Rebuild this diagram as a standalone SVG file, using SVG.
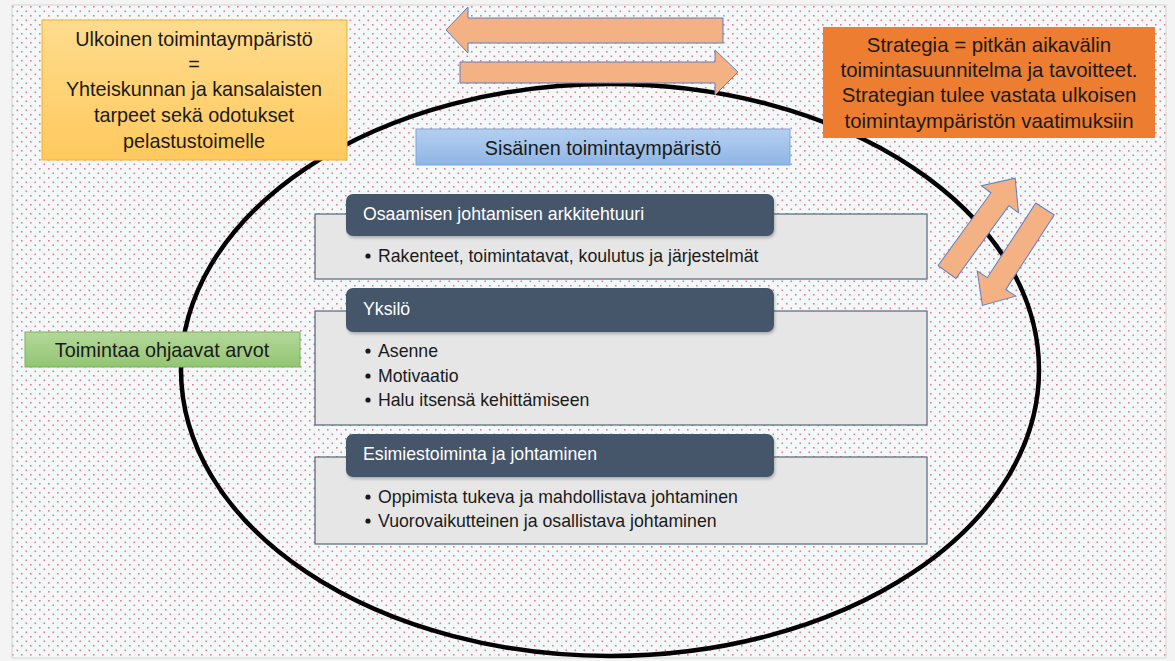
<svg xmlns="http://www.w3.org/2000/svg" width="1175" height="661" viewBox="0 0 1175 661">
<defs>
<pattern id="dots" x="12" y="6" width="9" height="9" patternUnits="userSpaceOnUse">
<rect width="9" height="9" fill="#f3f9f9"/>
<rect x="0" y="0" width="1.6" height="1.6" fill="#e0506a" opacity="0.75"/>
<rect x="4.5" y="4.5" width="1.6" height="1.6" fill="#e0506a" opacity="0.75"/>
</pattern>
<linearGradient id="gYellow" x1="0" y1="0" x2="0" y2="1">
<stop offset="0" stop-color="#ffdc8e"/>
<stop offset="1" stop-color="#ffc95e"/>
</linearGradient>
<linearGradient id="gBlue" x1="0" y1="0" x2="0" y2="1">
<stop offset="0" stop-color="#b4d0f0"/>
<stop offset="1" stop-color="#8fb5e5"/>
</linearGradient>
<linearGradient id="gGreen" x1="0" y1="0" x2="0" y2="1">
<stop offset="0" stop-color="#b3d89a"/>
<stop offset="1" stop-color="#92c572"/>
</linearGradient>
<filter id="sh" x="-5%" y="-20%" width="110%" height="150%">
<feDropShadow dx="1" dy="2" stdDeviation="1.5" flood-color="#000" flood-opacity="0.25"/>
</filter>
</defs>
<style>
text{font-family:"Liberation Sans",Arial,sans-serif;fill:#1a1a1a}
.big{font-size:19.8px}
.str{font-size:20.4px}
.tab{fill:#44546a}
.tabt{font-size:17.7px;fill:#ffffff}
.panel{fill:#e6e6e6;stroke:#56667a;stroke-width:1.2}
.bt{font-size:17.7px}
.arrow{fill:#f4b183;stroke:#5b7fc9;stroke-width:1}
</style>
<rect x="0" y="0" width="1175" height="661" fill="#f4f4f4"/>
<rect x="12" y="5" width="1154" height="653" fill="url(#dots)" stroke="#d4d4d4" stroke-width="1"/>

<g id="ellipse">
<ellipse cx="610" cy="370" rx="429" ry="286" fill="none" stroke="#000" stroke-width="4.5"/>
</g>

<g id="ulkoinen">
<rect x="42" y="20" width="305" height="140" fill="url(#gYellow)" stroke="#f2b134" stroke-width="1"/>
<text class="big" text-anchor="middle" x="194" y="46">Ulkoinen toimintaympäristö</text>
<text class="big" text-anchor="middle" x="194" y="71">=</text>
<text class="big" text-anchor="middle" x="194" y="96">Yhteiskunnan ja kansalaisten</text>
<text class="big" text-anchor="middle" x="194" y="122">tarpeet sekä odotukset</text>
<text class="big" text-anchor="middle" x="194" y="148">pelastustoimelle</text>
</g>

<g id="strategia">
<rect x="823" y="27" width="332" height="111" fill="#ed7d31"/>
<text class="str" text-anchor="middle" x="989" y="52">Strategia = pitkän aikavälin</text>
<text class="str" text-anchor="middle" x="989" y="77">toimintasuunnitelma ja tavoitteet.</text>
<text class="str" text-anchor="middle" x="989" y="102">Strategian tulee vastata ulkoisen</text>
<text class="str" text-anchor="middle" x="989" y="128">toimintaympäristön vaatimuksiin</text>
</g>

<g id="sisainen">
<rect x="416" y="129" width="374" height="36" fill="url(#gBlue)" stroke="#7ea6d8" stroke-width="1"/>
<text class="big" text-anchor="middle" x="603" y="155">Sisäinen toimintaympäristö</text>
</g>

<g id="arvot">
<rect x="25" y="332" width="275" height="35" fill="url(#gGreen)" stroke="#7fb05f" stroke-width="1"/>
<text class="big" text-anchor="middle" x="162" y="357">Toimintaa ohjaavat arvot</text>
</g>

<g id="connectors">
<polygon class="arrow" points="723,18 468,18 468,7 446,30 468,53 468,43 723,43"/>
<polygon class="arrow" points="460,62 715,62 715,50 738,72 715,95 715,83 460,83"/>
<polygon class="arrow" transform="translate(947,272) rotate(-54)" points="0,-11 90,-11 90,-23 116,0 90,23 90,11 0,11"/>
<polygon class="arrow" transform="translate(1045,209) rotate(123)" points="0,-11 89,-11 89,-23 115,0 89,23 89,11 0,11"/>
</g>

<g id="arkkitehtuuri">
<rect class="panel" x="315" y="214" width="612" height="65"/>
<rect class="tab" x="346" y="194" width="428" height="42" rx="7" filter="url(#sh)"/>
<text class="tabt" x="363" y="220">Osaamisen johtamisen arkkitehtuuri</text>
<circle cx="368" cy="256" r="2.6" fill="#1a1a1a"/>
<text class="bt" x="378" y="262">Rakenteet, toimintatavat, koulutus ja järjestelmät</text>
</g>

<g id="yksilo">
<rect class="panel" x="315" y="311" width="612" height="114"/>
<rect class="tab" x="346" y="288" width="428" height="44" rx="7" filter="url(#sh)"/>
<text class="tabt" x="363" y="315">Yksilö</text>
<circle cx="368" cy="351" r="2.6" fill="#1a1a1a"/>
<text class="bt" x="378" y="357">Asenne</text>
<circle cx="368" cy="376" r="2.6" fill="#1a1a1a"/>
<text class="bt" x="378" y="382">Motivaatio</text>
<circle cx="368" cy="400" r="2.6" fill="#1a1a1a"/>
<text class="bt" x="378" y="406">Halu itsensä kehittämiseen</text>
</g>

<g id="esimiestoiminta">
<rect class="panel" x="315" y="457" width="612" height="87"/>
<rect class="tab" x="346" y="434" width="428" height="43" rx="7" filter="url(#sh)"/>
<text class="tabt" x="363" y="460">Esimiestoiminta ja johtaminen</text>
<circle cx="368" cy="497" r="2.6" fill="#1a1a1a"/>
<text class="bt" x="378" y="503">Oppimista tukeva ja mahdollistava johtaminen</text>
<circle cx="368" cy="521" r="2.6" fill="#1a1a1a"/>
<text class="bt" x="378" y="527">Vuorovaikutteinen ja osallistava johtaminen</text>
</g>
</svg>
